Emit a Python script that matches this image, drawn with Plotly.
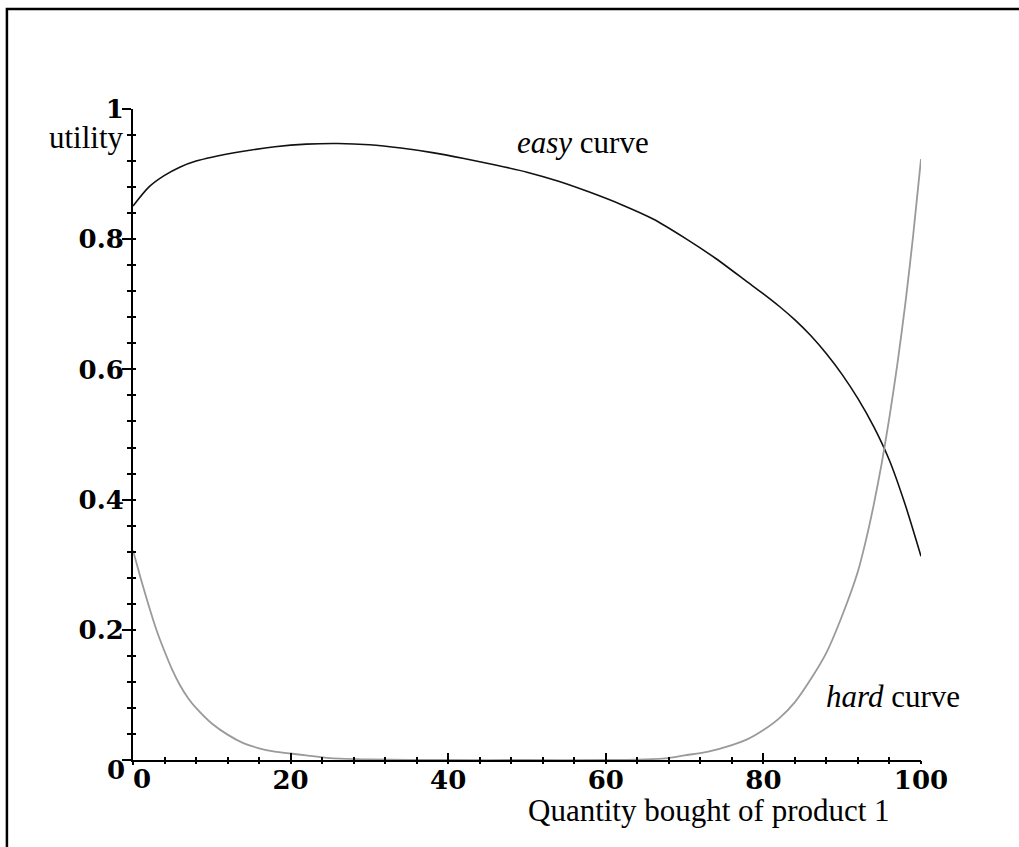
import plotly.graph_objects as go

# ---- data ----
easy_x = [0, 2, 4, 6, 8, 10, 14, 18, 22, 26, 30, 34, 38, 42, 46, 50, 54, 58, 62, 66,
          70, 74, 78, 80, 82, 84, 86, 88, 90, 92, 94, 96, 98, 100]
easy_y = [0.851, 0.880, 0.898, 0.911, 0.920, 0.926, 0.935, 0.942, 0.946, 0.947, 0.945,
          0.940, 0.933, 0.924, 0.914, 0.903, 0.889, 0.872, 0.853, 0.831, 0.802, 0.770,
          0.734, 0.716, 0.697, 0.676, 0.652, 0.624, 0.592, 0.555, 0.512, 0.460, 0.392, 0.313]

hard_x = [0, 1, 2, 3, 4, 5, 6, 7, 8, 10, 12, 14, 16, 18, 20, 22, 25, 30, 40, 50, 60, 65,
          68, 70, 73, 76, 78, 80, 82, 84, 86, 88, 90, 92, 93, 94, 95, 96, 97, 98, 99, 100]
hard_y = [0.322, 0.278, 0.237, 0.199, 0.167, 0.138, 0.114, 0.095, 0.080, 0.056, 0.039,
          0.026, 0.018, 0.013, 0.010, 0.007, 0.003, 0.001, 0.0, 0.0, 0.0, 0.001, 0.003,
          0.007, 0.013, 0.023, 0.032, 0.046, 0.064, 0.089, 0.124, 0.165, 0.222, 0.290,
          0.337, 0.392, 0.455, 0.527, 0.608, 0.700, 0.805, 0.923]

x_tickvals = [20, 40, 60, 80, 100]
x_ticktext = ["20", "40", "60", "80", "100"]
x_origin_val = [0]
x_origin_text = ["0"]
y_tickvals = [0.2, 0.4, 0.6, 0.8, 1]
y_ticktext = ["0.2", "0.4", "0.6", "0.8", "1"]
y_origin_val = [0]
y_origin_text = ["0"]

tickfont = dict(family="DejaVu Serif", size=26, color="black", weight="bold")
textfont = dict(family="Liberation Serif, Times New Roman, serif", size=31, color="black")

fig = go.Figure()
fig.add_trace(go.Scatter(x=easy_x, y=easy_y, mode="lines",
                         line=dict(color="#111111", width=1.6, shape="spline", smoothing=0.7),
                         hoverinfo="skip", showlegend=False))
fig.add_trace(go.Scatter(x=hard_x, y=hard_y, mode="lines",
                         line=dict(color="#9a9a9a", width=1.8, shape="spline", smoothing=0.7),
                         hoverinfo="skip", showlegend=False))

fig.update_layout(
    width=1019, height=847,
    margin=dict(l=133, r=98, t=109, b=87),
    paper_bgcolor="white", plot_bgcolor="white",
    showlegend=False,
    xaxis=dict(range=[0, 100], showgrid=False, zeroline=False, showline=True,
               linecolor="black", linewidth=2, ticks="inside", ticklen=7, tickwidth=2,
               tickcolor="black", tickvals=[0] + x_tickvals, ticktext=[""] + x_ticktext,
               tickfont=tickfont, ticklabelstandoff=-4,
               minor=dict(ticks="inside", ticklen=3, tickwidth=2, dtick=4, tick0=0, tickcolor="black"),
               fixedrange=True),
    xaxis2=dict(range=[0, 100], overlaying="x", side="bottom", anchor="y", showgrid=False,
                zeroline=False, showline=False, ticks="outside", ticklen=4, tickwidth=2,
                tickcolor="black", tickvals=x_origin_val, ticktext=x_origin_text,
                tickfont=tickfont, ticklabelstandoff=-8, ticklabelshift=9,
                minor=dict(ticks="outside", ticklen=3, tickwidth=2, dtick=4, tick0=0, tickcolor="black"),
                fixedrange=True),
    yaxis=dict(range=[0, 1], showgrid=False, zeroline=False, showline=True,
               linecolor="black", linewidth=2, ticks="outside", ticklen=9, tickwidth=2,
               tickcolor="black", tickvals=[0] + y_tickvals, ticktext=[""] + y_ticktext,
               tickfont=tickfont, ticklabelstandoff=-7,
               minor=dict(ticks="outside", ticklen=4, tickwidth=2, dtick=0.04, tick0=0, tickcolor="black"),
               fixedrange=True),
    yaxis2=dict(range=[0, 1], overlaying="y", side="left", anchor="x", showgrid=False,
                zeroline=False, showline=False, ticks="inside", ticklen=6, tickwidth=2,
                tickcolor="black", tickvals=y_origin_val, ticktext=y_origin_text,
                tickfont=tickfont, ticklabelstandoff=7, ticklabelshift=10,
                minor=dict(ticks="inside", ticklen=3, tickwidth=2, dtick=0.04, tick0=0, tickcolor="black"),
                fixedrange=True),
)

# dummy traces to activate the overlay axes
fig.add_trace(go.Scatter(x=[None], y=[None], xaxis="x2", yaxis="y", showlegend=False, hoverinfo="skip"))
fig.add_trace(go.Scatter(x=[None], y=[None], xaxis="x", yaxis="y2", showlegend=False, hoverinfo="skip"))

fig.add_annotation(x=57.1, y=0.949, xref="x", yref="y", text="<i>easy</i> curve", showarrow=False,
                   font=textfont, xanchor="center", yanchor="middle")
fig.add_annotation(x=96.5, y=0.097, xref="x", yref="y", text="<i>hard</i> curve", showarrow=False,
                   font=textfont, xanchor="center", yanchor="middle")
fig.add_annotation(x=-0.009, y=0.956, xref="paper", yref="paper", text="utility", showarrow=False,
                   font=textfont, xanchor="right", yanchor="middle")
fig.add_annotation(x=0.731, y=-0.078, xref="paper", yref="paper", text="Quantity bought of product 1",
                   showarrow=False, font=textfont, xanchor="center", yanchor="middle")

# outer frame (top and left edges visible)
fig.add_shape(type="rect", xref="paper", yref="paper", x0=-0.16, x1=1.25, y0=-0.3, y1=1.1536,
              line=dict(color="black", width=2.5), fillcolor="rgba(0,0,0,0)", layer="above")

fig.write_html("out.html", config={"displayModeBar": False},
               post_script="document.body.style.margin='0px';")
